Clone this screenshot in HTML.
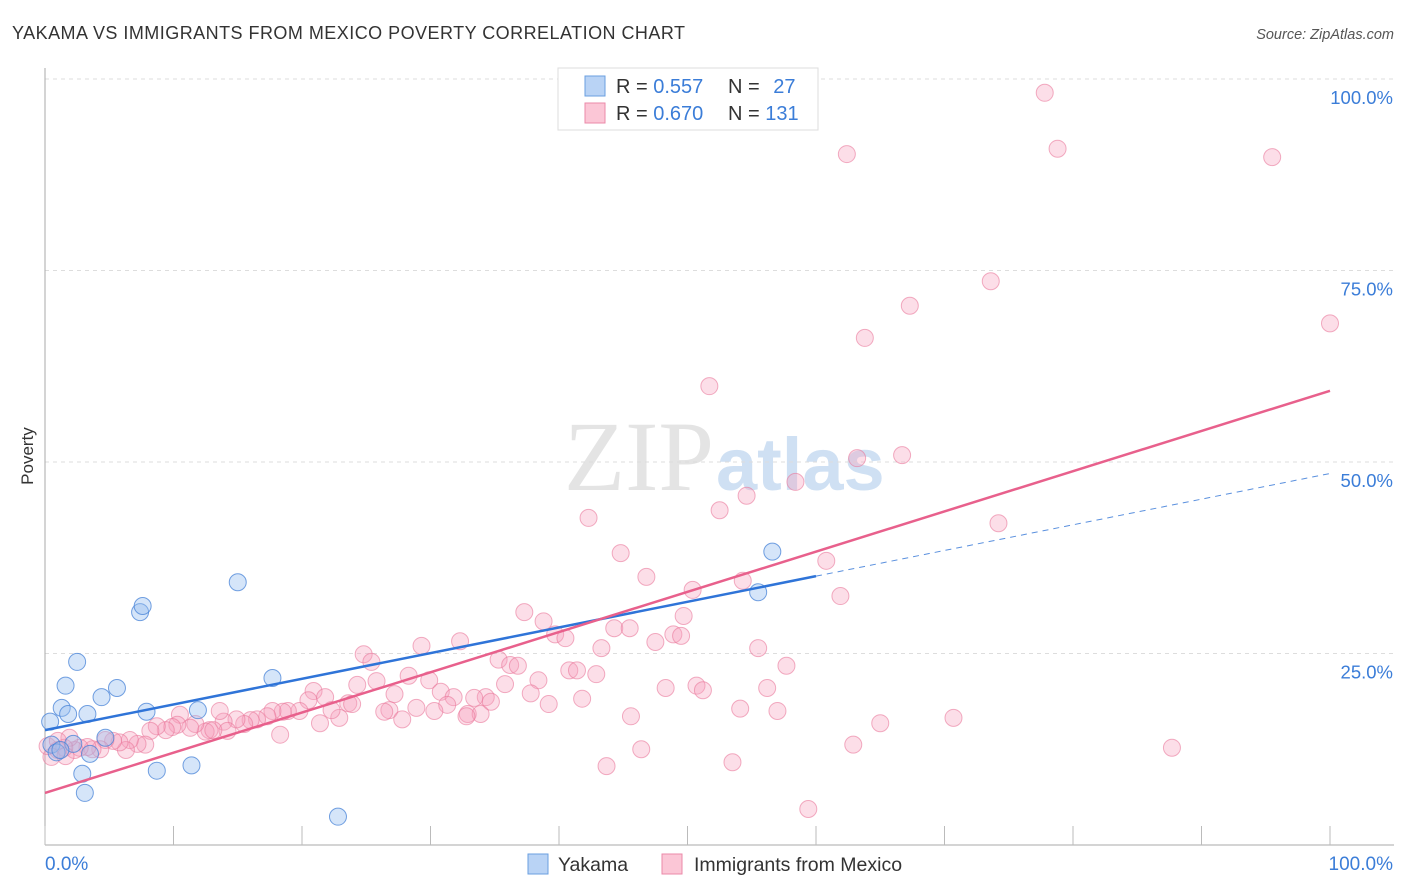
<!DOCTYPE html>
<html><head><meta charset="utf-8"><style>
body{margin:0;background:#fff;font-family:"Liberation Sans",sans-serif;}
#wrap{position:relative;width:1406px;height:892px;overflow:hidden;}
</style></head><body>
<div id="wrap">
<svg id="chart" width="1406" height="892">
<text x="12" y="39" font-size="18" fill="#333" textLength="673" lengthAdjust="spacing">YAKAMA VS IMMIGRANTS FROM MEXICO POVERTY CORRELATION CHART</text>
<text x="1394" y="39" font-size="14.5" fill="#555" font-style="italic" text-anchor="end">Source: ZipAtlas.com</text>
<text x="714" y="490" font-size="100" fill="#e4e4e4" text-anchor="end" font-family="Liberation Serif, serif">ZIP</text>
<text x="716" y="490" font-size="74" fill="#cfe0f3" font-weight="bold">atlas</text>
<text x="33" y="456" font-size="17" fill="#333" text-anchor="middle" transform="rotate(-90 33 456)">Poverty</text>
<g id="grid"></g><g id="axes"></g><g id="pts"></g><g id="lines"></g>
<g>
<rect x="558" y="68" width="260" height="62" fill="#fff" stroke="#ddd"/>
<rect x="585" y="76" width="20" height="20" fill="#b9d3f5" stroke="#6a9fe0"/>
<rect x="585" y="103" width="20" height="20" fill="#fbc6d6" stroke="#eb89a8"/>
<text x="616" y="93" font-size="20" fill="#333">R = <tspan fill="#3b7dd8">0.557</tspan></text>
<text x="728" y="93" font-size="20" fill="#333">N = <tspan fill="#3b7dd8" dx="8">27</tspan></text>
<text x="616" y="120" font-size="20" fill="#333">R = <tspan fill="#3b7dd8">0.670</tspan></text>
<text x="728" y="120" font-size="20" fill="#333">N = <tspan fill="#3b7dd8">131</tspan></text>
</g>
<g>
<rect x="528" y="854" width="20" height="20" fill="#b9d3f5" stroke="#6a9fe0"/>
<text x="558" y="871" font-size="19.5" fill="#333">Yakama</text>
<rect x="662" y="854" width="20" height="20" fill="#fbc6d6" stroke="#eb89a8"/>
<text x="694" y="871" font-size="19.5" fill="#333">Immigrants from Mexico</text>
</g>
</svg>
</div>
<script>
const yakamaX=[0.4,0.5,0.9,1.3,1.6,1.8,2.5,2.9,3.1,3.3,3.5,2.2,4.4,4.7,5.6,7.4,7.6,7.9,8.7,11.4,11.9,15.0,17.7,22.8,56.6,55.5,1.2];
const yakamaY=[16.1,13.1,12.1,17.9,20.8,17.1,23.9,9.3,6.8,17.1,11.9,13.2,19.3,14.0,20.5,30.4,31.2,17.4,9.7,10.4,17.6,34.3,21.8,3.7,38.3,33.0,12.4];
const mexicoX=[77.8,62.4,78.8,95.5,73.6,67.3,63.8,100,51.7,63.2,66.7,58.4,54.6,52.5,74.2,42.3,44.8,60.8,46.8,54.3,50.4,61.9,37.3,38.8,49.7,44.3,45.5,39.7,40.5,48.9,49.5,47.5,43.3,55.5,32.3,29.3,24.8,25.4,35.3,36.2,36.8,57.7,40.8,41.4,42.9,38.4,28.3,29.9,25.8,24.3,35.8,20.9,21.8,27.2,30.8,31.8,34.3,34.7,33.4,37.8,48.3,50.7,51.2,56.2,41.8,20.5,23.6,23.9,31.3,28.9,26.8,26.4,30.3,32.9,33.9,39.2,54.1,57.0,45.6,32.8,27.8,22.9,22.3,21.4,19.8,18.9,18.5,17.7,17.3,16.5,16.0,15.5,14.9,13.9,13.6,12.8,12.5,11.7,11.3,10.5,10.3,9.9,9.4,8.7,8.2,7.8,7.2,6.6,6.3,5.8,5.3,4.7,4.3,3.7,3.3,2.7,2.3,1.9,1.5,1.0,0.5,0.2,18.3,14.2,13.1,65.0,70.7,62.9,46.4,43.7,53.5,59.4,87.7,1.0,1.6];
const mexicoY=[98.2,90.2,90.9,89.8,73.6,70.4,66.2,68.1,59.9,50.5,50.9,47.4,45.6,43.7,42.0,42.7,38.1,37.1,35.0,34.5,33.3,32.5,30.4,29.2,29.9,28.3,28.3,27.5,27.0,27.5,27.3,26.5,25.7,25.7,26.6,26.0,24.9,23.9,24.2,23.5,23.4,23.4,22.8,22.8,22.3,21.5,22.1,21.5,21.4,20.9,21.0,20.1,19.3,19.7,20.0,19.3,19.3,18.7,19.2,19.8,20.5,20.8,20.2,20.5,19.1,18.9,18.5,18.4,18.3,17.9,17.6,17.4,17.5,17.1,17.1,18.4,17.8,17.5,16.8,16.8,16.4,16.6,17.6,15.9,17.5,17.5,17.4,17.5,16.8,16.4,16.3,15.8,16.4,16.1,17.5,15.0,14.8,15.8,15.3,17.0,15.7,15.4,15.0,15.5,14.9,13.1,13.2,13.7,12.4,13.4,13.6,13.7,12.5,12.5,12.8,12.7,12.4,14.0,12.7,12.4,11.5,12.9,14.4,14.9,15.0,15.9,16.6,13.1,12.5,10.3,10.8,4.7,12.7,13.6,11.6];
const yTicks=[25,50,75,100];
const yTickLabels=["25.0%","50.0%","75.0%","100.0%"];
const xTicks=[0,10,20,30,40,50,60,70,80,90,100];
const yakamaFit=[15.0,48.5];
const mexicoFit=[6.8,59.3];
const ns="http://www.w3.org/2000/svg";
const X=v=>45+v*12.85, Y=v=>845-v*7.66;
function mk(t,a,p){const e=document.createElementNS(ns,t);for(const k in a)e.setAttribute(k,a[k]);document.getElementById(p).appendChild(e);return e;}
yTicks.forEach((t,i)=>{
 const g=mk('line',{x1:45,x2:1394,y1:Y(t),y2:Y(t),stroke:'#ddd','stroke-dasharray':'4,4'},'grid');
 
 
 const l=mk('text',{x:1393,y:Y(t)+25,'font-size':18.5,fill:'#3b7dd8','text-anchor':'end'},'grid');
 l.textContent=yTickLabels[i];
 
 
});
const ya=mk('line',{x1:45,x2:45,y1:68,y2:845,stroke:'#aaa'},'axes');


const xa=mk('line',{x1:45,x2:1394,y1:845,y2:845,stroke:'#aaa'},'axes');


xTicks.forEach(t=>{
 const k=mk('line',{x1:X(t),x2:X(t),y1:826,y2:845,stroke:'#bbb'},'axes');
 
 
});
const x0=mk('text',{x:45,y:870,'font-size':19,fill:'#3b7dd8'},'axes');x0.textContent='0.0%';


const x1=mk('text',{x:1393,y:870,'font-size':19,fill:'#3b7dd8','text-anchor':'end'},'axes');x1.textContent='100.0%';


mexicoX.forEach((v,i)=>{
 const c=mk('circle',{cx:X(v),cy:Y(mexicoY[i]),r:8.5,fill:'rgba(246,160,188,0.35)',stroke:'rgba(233,120,155,0.6)','stroke-width':1},'pts');
 
 
});
yakamaX.forEach((v,i)=>{
 const c=mk('circle',{cx:X(v),cy:Y(yakamaY[i]),r:8.5,fill:'rgba(150,190,240,0.4)',stroke:'rgba(70,130,215,0.75)','stroke-width':1},'pts');
 
 
});
const yf=v=>yakamaFit[0]+(yakamaFit[1]-yakamaFit[0])*v/100;
const l1=mk('line',{x1:X(0),y1:Y(yf(0)),x2:X(60),y2:Y(yf(60)),stroke:'#2f74d8','stroke-width':2.5},'lines');


const l1d=mk('line',{x1:X(60),y1:Y(yf(60)),x2:X(100),y2:Y(yf(100)),stroke:'#5a90de','stroke-width':1,'stroke-dasharray':'6,5'},'lines');


const l2=mk('line',{x1:X(0),y1:Y(mexicoFit[0]),x2:X(100),y2:Y(mexicoFit[1]),stroke:'#e8608c','stroke-width':2.5},'lines');


</script>
</body></html>
